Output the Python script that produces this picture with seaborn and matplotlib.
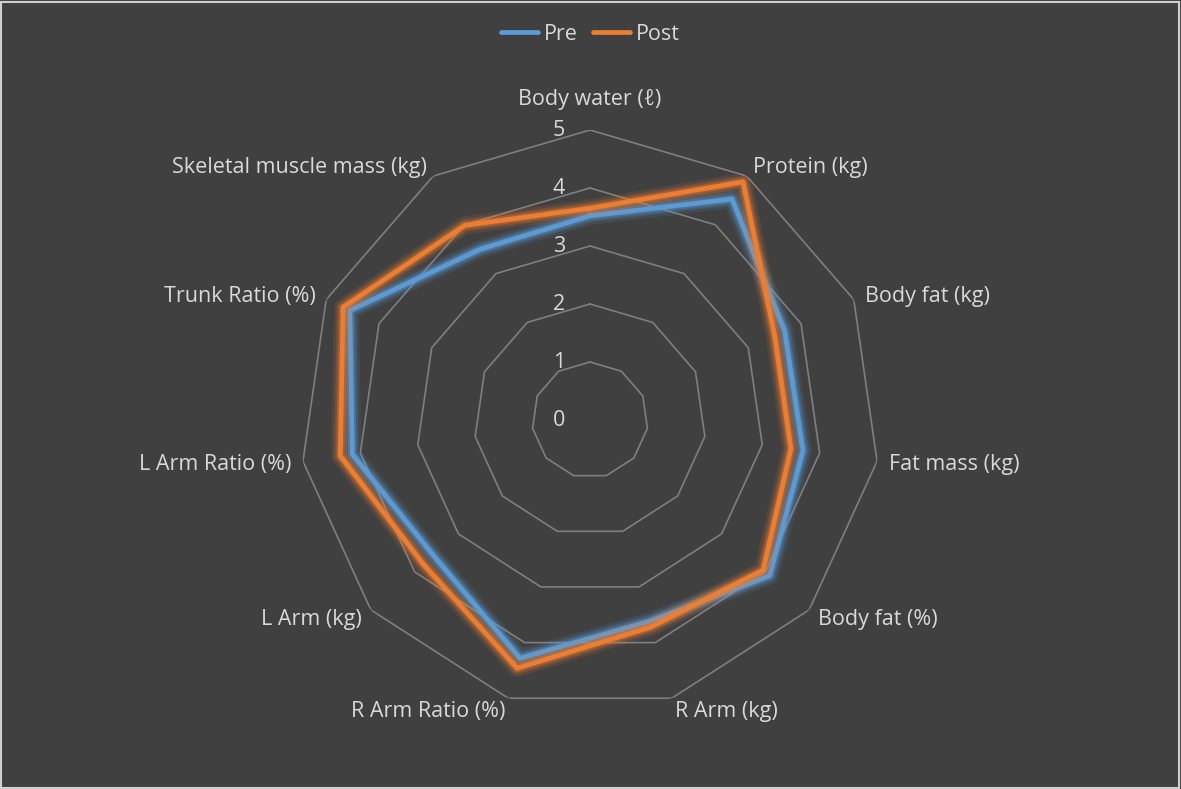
import numpy as np
import pandas as pd
import matplotlib
matplotlib.use('Agg')
import matplotlib.pyplot as plt
import matplotlib.patheffects as pe
from matplotlib.lines import Line2D
from matplotlib.patches import Rectangle
import seaborn as sns

# data
categories = ['Body water (ℓ)', 'Protein (kg)', 'Body fat (kg)', 'Fat mass (kg)',
              'Body fat (%)', 'R Arm (kg)', 'R Arm Ratio (%)', 'L Arm (kg)',
              'L Arm Ratio (%)', 'Trunk Ratio (%)', 'Skeletal muscle mass (kg)']
pre = [3.52, 4.53, 3.69, 3.71, 4.10, 3.62, 4.28, 3.57, 4.14, 4.55, 3.50]
post = [3.65, 4.88, 3.50, 3.50, 3.95, 3.72, 4.46, 3.80, 4.35, 4.68, 3.99]
levels = [0, 1, 2, 3, 4, 5]

bg = '#404040'
txt = '#d9d9d9'
grid_col = '#7f7f7f'
colors = {'Pre': '#5b9bd5', 'Post': '#ed7d31'}
fs = 15.5

sns.set_theme(style='dark', rc={'axes.facecolor': bg, 'figure.facecolor': bg})
plt.rcParams['font.family'] = ['Open Sans', 'DejaVu Sans']

n = len(categories)
angles = np.linspace(0, 2 * np.pi, n, endpoint=False)
closed = np.append(angles, 2 * np.pi)

# long-form table, first point repeated at 2*pi to close each polygon
frames = []
for name, vals in [('Pre', pre), ('Post', post)]:
    frames.append(pd.DataFrame({'series': name, 'theta': closed,
                                'value': list(vals) + [vals[0]]}))
df = pd.concat(frames, ignore_index=True)

fig = plt.figure(figsize=(11.81, 7.89), dpi=100)
W, H = 1181, 789
cx, cy, R = 590, 420, 290
ax = fig.add_axes([(cx - R) / W, (H - cy - R) / H, 2 * R / W, 2 * R / H], projection='polar')
ax.set_facecolor(bg)
ax.set_theta_zero_location('N')
ax.set_theta_direction(-1)
ax.set_ylim(0, 5)
ax.grid(False)
ax.spines['polar'].set_visible(False)
ax.set_xticks([])
ax.set_yticks([])

# polygon grid
for lv in levels[1:]:
    ax.plot(closed, [lv] * len(closed), color=grid_col, lw=1.2, zorder=1)

# data lines with a soft glow
for name in ['Pre', 'Post']:
    c = colors[name]
    sub = df[df.series == name]
    sns.lineplot(data=sub, x='theta', y='value', sort=False, color=c, lw=3.4,
                 ax=ax, legend=False, zorder=3,
                 path_effects=[pe.Stroke(linewidth=13, foreground=c, alpha=0.12),
                               pe.Stroke(linewidth=9, foreground=c, alpha=0.22),
                               pe.Stroke(linewidth=6, foreground=c, alpha=0.35),
                               pe.Normal()])
ax.set_xlabel('')
ax.set_ylabel('')

# level labels
for lv in levels:
    ax.annotate(str(lv), xy=(0, lv), xytext=(-25, -1), textcoords='offset pixels',
                ha='right', va='center', color=txt, fontsize=fs, zorder=5)

# category labels
for a, lab in zip(angles, categories):
    s, c = np.sin(a), np.cos(a)
    d = 32 if abs(s) < 0.01 else 12
    ha = 'center' if abs(s) < 0.01 else ('left' if s > 0 else 'right')
    ax.annotate(lab, xy=(a, 5), xytext=(s * d, c * d - 1.5), textcoords='offset pixels',
                ha=ha, va='center', color=txt, fontsize=fs, annotation_clip=False)

handles = [Line2D([], [], color=colors[k], lw=3.4) for k in ['Pre', 'Post']]
fig.legend(handles, ['Pre', 'Post'], loc='center', bbox_to_anchor=(0.5, 1 - 34 / H),
           ncol=2, frameon=False, fontsize=fs, labelcolor=txt, handlelength=1.7,
           handletextpad=0.3, columnspacing=0.7)

fig.patches.append(Rectangle((0.001, 0.001), 0.997, 0.997, transform=fig.transFigure,
                             fill=False, edgecolor='#d0d0d0', lw=1.5))

fig.savefig('out.png', dpi=100, facecolor=bg)
